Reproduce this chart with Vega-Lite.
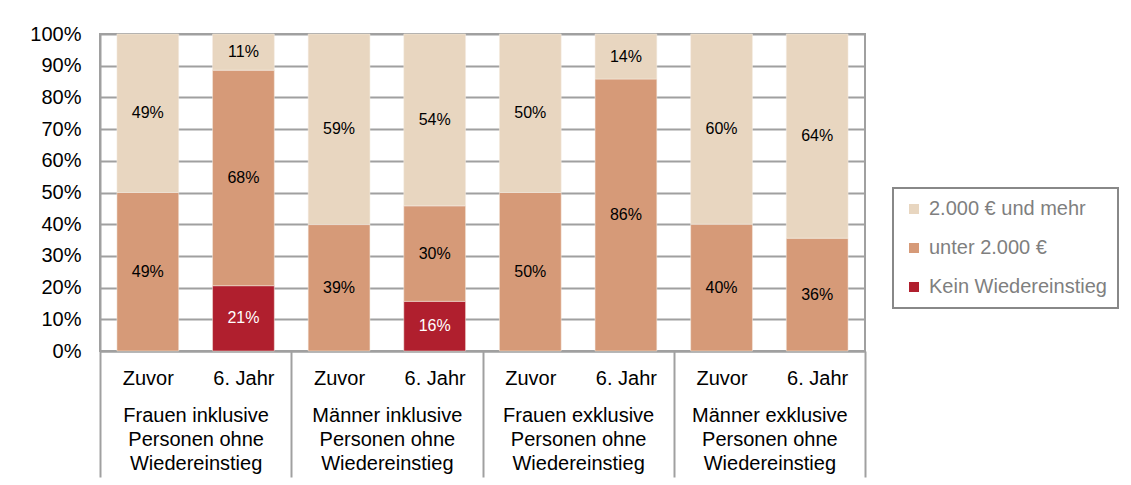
{
  "$schema": "https://vega.github.io/schema/vega-lite/v6.json",
  "autosize": "none",
  "width": 765,
  "height": 317,
  "padding": {"left": 100, "top": 34, "right": 266, "bottom": 134},
  "background": "white",
  "config": {
    "font": "Liberation Sans",
    "view": {"stroke": "#a0a0a0", "strokeWidth": 2},
    "axis": {"labelFont": "Liberation Sans", "labelColor": "black"},
    "legend": {"strokeWidth": 2}
  },
  "data": {
    "values": [
      {"group": "Frauen inklusive|Personen ohne|Wiedereinstieg", "period": "Zuvor", "bar": "FI|Zuvor", "category": "unter 2.000 €", "value": 0.494},
      {"group": "Frauen inklusive|Personen ohne|Wiedereinstieg", "period": "Zuvor", "bar": "FI|Zuvor", "category": "2.000 € und mehr", "value": 0.494},
      {"group": "Frauen inklusive|Personen ohne|Wiedereinstieg", "period": "6. Jahr", "bar": "FI|6. Jahr", "category": "Kein Wiedereinstieg", "value": 0.206},
      {"group": "Frauen inklusive|Personen ohne|Wiedereinstieg", "period": "6. Jahr", "bar": "FI|6. Jahr", "category": "unter 2.000 €", "value": 0.68},
      {"group": "Frauen inklusive|Personen ohne|Wiedereinstieg", "period": "6. Jahr", "bar": "FI|6. Jahr", "category": "2.000 € und mehr", "value": 0.114},
      {"group": "Männer inklusive|Personen ohne|Wiedereinstieg", "period": "Zuvor", "bar": "MI|Zuvor", "category": "unter 2.000 €", "value": 0.394},
      {"group": "Männer inklusive|Personen ohne|Wiedereinstieg", "period": "Zuvor", "bar": "MI|Zuvor", "category": "2.000 € und mehr", "value": 0.594},
      {"group": "Männer inklusive|Personen ohne|Wiedereinstieg", "period": "6. Jahr", "bar": "MI|6. Jahr", "category": "Kein Wiedereinstieg", "value": 0.156},
      {"group": "Männer inklusive|Personen ohne|Wiedereinstieg", "period": "6. Jahr", "bar": "MI|6. Jahr", "category": "unter 2.000 €", "value": 0.30},
      {"group": "Männer inklusive|Personen ohne|Wiedereinstieg", "period": "6. Jahr", "bar": "MI|6. Jahr", "category": "2.000 € und mehr", "value": 0.54},
      {"group": "Frauen exklusive|Personen ohne|Wiedereinstieg", "period": "Zuvor", "bar": "FE|Zuvor", "category": "unter 2.000 €", "value": 0.50},
      {"group": "Frauen exklusive|Personen ohne|Wiedereinstieg", "period": "Zuvor", "bar": "FE|Zuvor", "category": "2.000 € und mehr", "value": 0.50},
      {"group": "Frauen exklusive|Personen ohne|Wiedereinstieg", "period": "6. Jahr", "bar": "FE|6. Jahr", "category": "unter 2.000 €", "value": 0.858},
      {"group": "Frauen exklusive|Personen ohne|Wiedereinstieg", "period": "6. Jahr", "bar": "FE|6. Jahr", "category": "2.000 € und mehr", "value": 0.142},
      {"group": "Männer exklusive|Personen ohne|Wiedereinstieg", "period": "Zuvor", "bar": "ME|Zuvor", "category": "unter 2.000 €", "value": 0.40},
      {"group": "Männer exklusive|Personen ohne|Wiedereinstieg", "period": "Zuvor", "bar": "ME|Zuvor", "category": "2.000 € und mehr", "value": 0.60},
      {"group": "Männer exklusive|Personen ohne|Wiedereinstieg", "period": "6. Jahr", "bar": "ME|6. Jahr", "category": "unter 2.000 €", "value": 0.356},
      {"group": "Männer exklusive|Personen ohne|Wiedereinstieg", "period": "6. Jahr", "bar": "ME|6. Jahr", "category": "2.000 € und mehr", "value": 0.644}
    ]
  },
  "transform": [
    {"calculate": "indexof(['Kein Wiedereinstieg','unter 2.000 €','2.000 € und mehr'], datum.category)", "as": "stackOrder"}
  ],
  "encoding": {
    "y": {
      "field": "value",
      "type": "quantitative",
      "stack": "normalize",
      "scale": {"domain": [0, 1]},
      "axis": {
        "format": ".0%",
        "values": [0, 0.1, 0.2, 0.3, 0.4, 0.5, 0.6, 0.7, 0.8, 0.9, 1],
        "title": null,
        "ticks": false,
        "labelPadding": 19,
        "labelFontSize": 20,
        "domainColor": "#a0a0a0",
        "domainWidth": 2,
        "gridColor": "#a0a0a0",
        "gridWidth": 2
      }
    },
    "order": {"field": "stackOrder", "type": "quantitative"}
  },
  "layer": [
    {
      "mark": {"type": "bar", "stroke": "#f4ece2", "strokeWidth": 0.5},
      "encoding": {
        "x": {
          "field": "group",
          "type": "nominal",
          "sort": null,
          "scale": {"paddingInner": 0, "paddingOuter": 0},
          "axis": {
            "orient": "bottom",
            "title": null,
            "labelAngle": 0,
            "labelExpr": "split(datum.label, '|')",
            "labelFontSize": 20,
            "labelLineHeight": 24,
            "labelPadding": -72,
            "tickBand": "extent",
            "tickSize": 126,
            "tickColor": "#a0a0a0",
            "tickWidth": 2,
            "domainColor": "#a0a0a0",
            "domainWidth": 2,
            "labelLimit": 300
          }
        },
        "xOffset": {
          "field": "period",
          "type": "nominal",
          "sort": ["Zuvor", "6. Jahr"],
          "scale": {"paddingInner": 0.354, "paddingOuter": 0.177}
        },
        "color": {
          "field": "category",
          "type": "nominal",
          "scale": {
            "domain": ["2.000 € und mehr", "unter 2.000 €", "Kein Wiedereinstieg"],
            "range": ["#e8d6c0", "#d69a78", "#b01f2e"]
          },
          "legend": {
            "title": null,
            "orient": "none",
            "legendX": 793,
            "legendY": 154,
            "symbolType": "square",
            "symbolSize": 100,
            "symbolStrokeWidth": 0,
            "labelFontSize": 20,
            "labelColor": "#7f7f7f",
            "labelFont": "Liberation Sans",
            "labelLimit": 400,
            "rowPadding": 19,
            "padding": 11,
            "labelOffset": 5,
            "strokeColor": "#888888",
            "fillColor": "white",
            "encode": {"legend": {"update": {"strokeWidth": {"value": 2}}}}
          }
        }
      }
    },
    {
      "mark": {"type": "text", "fontSize": 16, "font": "Liberation Sans"},
      "encoding": {
        "x": {
          "field": "bar",
          "type": "nominal",
          "sort": null,
          "scale": {"paddingInner": 0.354, "paddingOuter": 0.177},
          "axis": {
            "orient": "bottom",
            "title": null,
            "labelAngle": 0,
            "labelExpr": "split(datum.label, '|')[1]",
            "labelFontSize": 20,
            "labelPadding": 17,
            "ticks": false,
            "domain": false
          }
        },
        "y": {
          "field": "value",
          "type": "quantitative",
          "stack": "normalize",
          "bandPosition": 0.5
        },
        "detail": {"field": "category", "type": "nominal"},
        "text": {"field": "value", "type": "quantitative", "format": ".0%"},
        "color": {
          "condition": {"test": "datum.category === 'Kein Wiedereinstieg'", "value": "white"},
          "value": "black"
        }
      }
    }
  ],
  "resolve": {"scale": {"x": "independent"}, "axis": {"x": "independent"}}
}
